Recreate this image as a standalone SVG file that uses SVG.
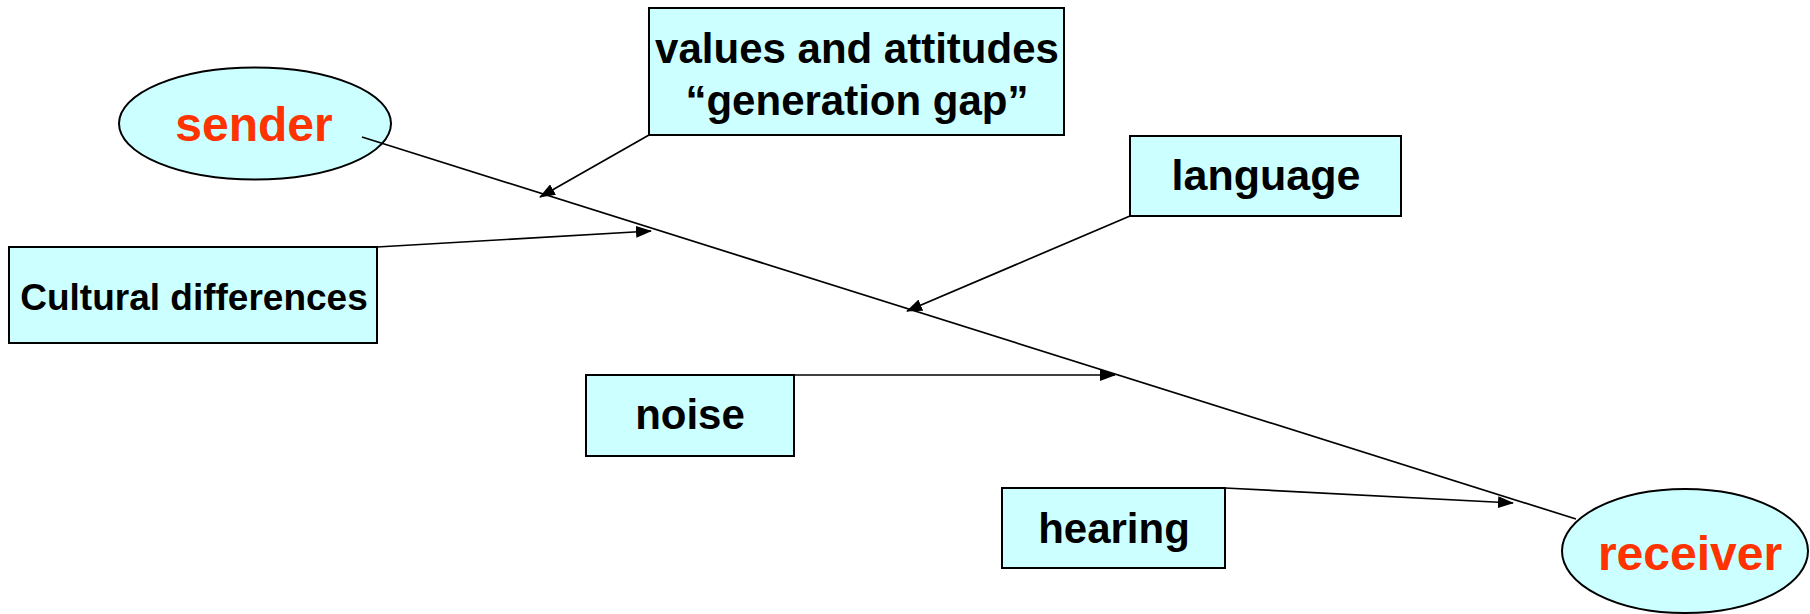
<svg xmlns="http://www.w3.org/2000/svg" width="1810" height="614" viewBox="0 0 1810 614">
<style>
.box{fill:#CCFFFF;stroke:#000;stroke-width:2}
.t{font-family:"Liberation Sans",Arial,sans-serif;font-weight:bold;text-anchor:middle;fill:#000}
.red{fill:#FF3300}
.c{stroke:#000;stroke-width:1.7;fill:none}
</style>
<defs>
<marker id="ah" markerUnits="userSpaceOnUse" markerWidth="16" markerHeight="12" refX="15" refY="6" orient="auto" viewBox="0 0 16 12">
<path d="M0,0 L16,6 L0,12 Z" fill="#000"/>
</marker>
</defs>
<g id="sender">
<ellipse class="box" cx="255" cy="123.5" rx="136" ry="56"/>
<text class="t red" x="254" y="141" font-size="48">sender</text>
</g>
<g id="receiver">
<ellipse class="box" cx="1685" cy="551" rx="123" ry="62"/>
<text class="t red" x="1690" y="570" font-size="48">receiver</text>
</g>
<g id="values">
<rect class="box" x="649" y="8" width="415" height="127"/>
<text class="t" x="857" y="63" font-size="42">values and attitudes</text>
<text class="t" x="857" y="115" font-size="42">“generation gap”</text>
</g>
<g id="cultural">
<rect class="box" x="9" y="247" width="368" height="96"/>
<text class="t" x="194" y="310" font-size="37">Cultural differences</text>
</g>
<g id="language">
<rect class="box" x="1130" y="136" width="271" height="80"/>
<text class="t" x="1266" y="190" font-size="43">language</text>
</g>
<g id="noise">
<rect class="box" x="586" y="375" width="208" height="81"/>
<text class="t" x="690" y="429" font-size="42">noise</text>
</g>
<g id="hearing">
<rect class="box" x="1002" y="488" width="223" height="80"/>
<text class="t" x="1114" y="543" font-size="42">hearing</text>
</g>
<g id="connectors">
<line class="c" x1="362" y1="137" x2="1576" y2="519"/>
<line class="c" x1="649" y1="135" x2="540" y2="197" marker-end="url(#ah)"/>
<line class="c" x1="377" y1="247" x2="651" y2="231" marker-end="url(#ah)"/>
<line class="c" x1="1130" y1="216" x2="907" y2="311" marker-end="url(#ah)"/>
<line class="c" x1="794" y1="375" x2="1115" y2="375" marker-end="url(#ah)"/>
<line class="c" x1="1225" y1="488" x2="1513" y2="503" marker-end="url(#ah)"/>
</g>
</svg>
